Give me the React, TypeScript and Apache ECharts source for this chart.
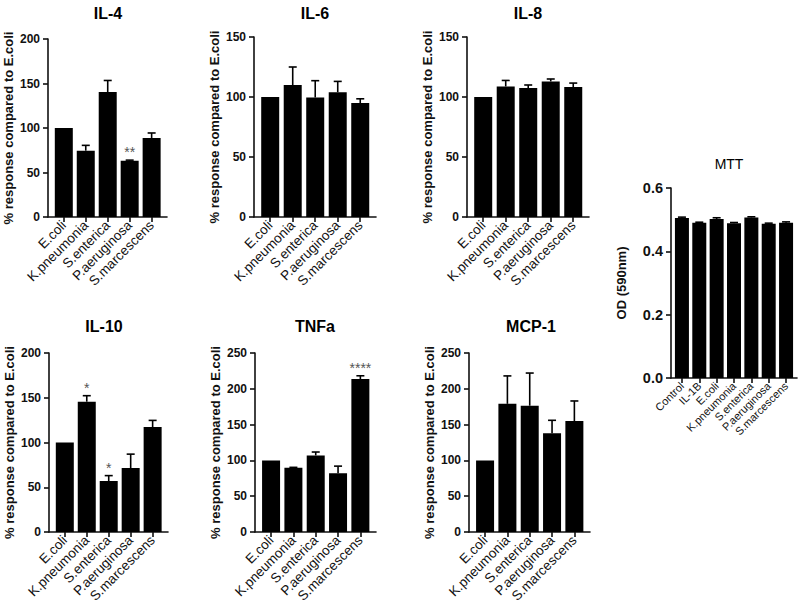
import React, { useEffect, useRef } from 'react';
import * as echarts from 'echarts';

// ---------------- data ----------------
const bacteria = ['E.coli', 'K.pneumonia', 'S.enterica', 'P.aeruginosa', 'S.marcescens'];
const mttCategories = ['Control', 'IL-1B', 'E.coli', 'K.pneumonia', 'S.enterica', 'P.aeruginosa', 'S.marcescens'];

const il4Means = [100, 74.5, 140.4, 63.3, 88.8];
const il4Errors = [0, 6, 13, 0.6, 5.6];
const il4Stars = ['', '', '', '**', ''];

const il6Means = [100, 110, 99.6, 104, 95];
const il6Errors = [0, 15, 14, 9, 3.5];
const il6Stars = ['', '', '', '', ''];

const il8Means = [100, 108.8, 107.5, 113, 108.3];
const il8Errors = [0, 5, 2.5, 2, 3.3];
const il8Stars = ['', '', '', '', ''];

const il10Means = [100, 145.6, 57, 71.5, 117.3];
const il10Errors = [0, 6.7, 6, 15.5, 7.4];
const il10Stars = ['', '*', '*', '', ''];

const tnfMeans = [100, 89.8, 107, 82, 213.7];
const tnfErrors = [0, 0.5, 4.7, 10, 4.5];
const tnfStars = ['', '', '', '', '****'];

const mcpMeans = [100, 179, 176.4, 138, 155];
const mcpErrors = [0, 39, 45.6, 18, 28];
const mcpStars = ['', '', '', '', ''];

const mttMeans = [0.505, 0.49, 0.502, 0.489, 0.507, 0.487, 0.49];
const mttErrors = [0.003, 0.002, 0.004, 0.002, 0.002, 0.002, 0.003];
const mttStars = ['', '', '', '', '', '', ''];

const yTicksPct200 = { max: 200, interval: 50 };
const yTicksPct150 = { max: 150, interval: 50 };
const yTicksPct250 = { max: 250, interval: 50 };
const yTicksOD = { max: 0.6, interval: 0.2 };

const yNamePct = '% response compared to E.coli';
const yNameOD = 'OD (590nm)';

// ---------------- layout ----------------
const FONT = '"Liberation Sans", Arial, Helvetica, sans-serif';

type Panel = {
  title: string;
  titleX: number;
  titleY: number;
  titleBold: boolean;
  titleSize: number;
  cats: string[];
  means: number[];
  errors: number[];
  stars: string[];
  ticks: { max: number; interval: number };
  yName: string;
  left: number;
  top: number;
  width: number;
  height: number;
  xMin: number;
  xMax: number;
  barWidth: number;
  tickFont: number;
  catFont: number;
  nameGap: number;
  decimals: number;
};

const common = {
  titleBold: true,
  titleSize: 16,
  xMin: -0.72,
  xMax: 4.7,
  barWidth: 18,
  tickFont: 12,
  catFont: 13.5,
  nameGap: 33,
  decimals: 0,
  yName: yNamePct,
};

const panels: Panel[] = [
  { ...common, title: 'IL-4', titleX: 108, titleY: 13, cats: bacteria, means: il4Means, errors: il4Errors, stars: il4Stars, ticks: yTicksPct200, left: 48, top: 39, width: 119, height: 178 },
  { ...common, title: 'IL-6', titleX: 315, titleY: 13, cats: bacteria, means: il6Means, errors: il6Errors, stars: il6Stars, ticks: yTicksPct150, left: 254, top: 37, width: 122, height: 180 },
  { ...common, title: 'IL-8', titleX: 528, titleY: 13, cats: bacteria, means: il8Means, errors: il8Errors, stars: il8Stars, ticks: yTicksPct150, left: 467, top: 37, width: 122, height: 180 },
  { ...common, title: 'IL-10', titleX: 104, titleY: 326, cats: bacteria, means: il10Means, errors: il10Errors, stars: il10Stars, ticks: yTicksPct200, left: 49, top: 353, width: 119, height: 179 },
  { ...common, title: 'TNFa', titleX: 315, titleY: 326, cats: bacteria, means: tnfMeans, errors: tnfErrors, stars: tnfStars, ticks: yTicksPct250, left: 255, top: 353, width: 121, height: 179 },
  { ...common, title: 'MCP-1', titleX: 531, titleY: 326, cats: bacteria, means: mcpMeans, errors: mcpErrors, stars: mcpStars, ticks: yTicksPct250, left: 469, top: 353, width: 121, height: 179 },
  {
    ...common,
    title: 'MTT', titleX: 729, titleY: 164, titleBold: false, titleSize: 14,
    cats: mttCategories, means: mttMeans, errors: mttErrors, stars: mttStars, ticks: yTicksOD,
    yName: yNameOD, left: 671, top: 188, width: 126, height: 190,
    xMin: -0.63, xMax: 6.63, barWidth: 14, tickFont: 14.5, catFont: 11, nameGap: 43, decimals: 1,
  },
];

function buildOption() {
  const grid: any[] = [];
  const xAxis: any[] = [];
  const yAxis: any[] = [];
  const series: any[] = [];
  const graphic: any[] = [];
  const axisLineStyle = { color: '#111', width: 1.6 };

  panels.forEach((p, i) => {
    const idx = p.cats.map((_, j) => j);
    grid.push({ left: p.left, top: p.top, width: p.width, height: p.height, containLabel: false });
    xAxis.push({
      type: 'value',
      gridIndex: i,
      min: p.xMin,
      max: p.xMax,
      splitLine: { show: false },
      axisLine: { show: true, onZero: false, lineStyle: axisLineStyle },
      axisTick: { show: true, customValues: idx, length: 5, lineStyle: axisLineStyle },
      axisLabel: {
        customValues: idx,
        rotate: 45,
        margin: 6,
        fontFamily: FONT,
        fontSize: p.catFont,
        color: '#111',
        formatter: (v: number) => p.cats[Math.round(v)] ?? '',
      },
    });
    yAxis.push({
      type: 'value',
      gridIndex: i,
      min: 0,
      max: p.ticks.max,
      interval: p.ticks.interval,
      splitLine: { show: false },
      axisLine: { show: true, onZero: false, lineStyle: axisLineStyle },
      axisTick: { show: true, length: 5, lineStyle: axisLineStyle },
      axisLabel: {
        margin: 8,
        fontFamily: FONT,
        fontWeight: 'bold',
        fontSize: p.tickFont,
        color: '#111',
        formatter: (v: number) => v.toFixed(p.decimals),
      },
      name: p.yName,
      nameLocation: 'middle',
      nameGap: p.nameGap,
      nameTextStyle: { fontFamily: FONT, fontWeight: 'bold', fontSize: 13, color: '#111' },
    });
    series.push({
      type: 'bar',
      xAxisIndex: i,
      yAxisIndex: i,
      barWidth: p.barWidth,
      data: p.means.map((m, j) => [j, m]),
      itemStyle: { color: '#000' },
      z: 2,
    });
    series.push({
      type: 'custom',
      xAxisIndex: i,
      yAxisIndex: i,
      coordinateSystem: 'cartesian2d',
      clip: false,
      z: 3,
      encode: { x: 0, y: 1 },
      data: p.means.map((m, j) => [j, m, p.errors[j]]),
      renderItem: (params: any, api: any) => {
        const x = api.value(0);
        const m = api.value(1);
        const e = api.value(2);
        const base = api.coord([x, m]);
        const top = api.coord([x, m + e]);
        const children: any[] = [];
        if (e > 0) {
          children.push({ type: 'line', shape: { x1: base[0], y1: base[1], x2: top[0], y2: top[1] }, style: { stroke: '#000', lineWidth: 1.6 } });
          children.push({ type: 'line', shape: { x1: top[0] - 4, y1: top[1], x2: top[0] + 4, y2: top[1] }, style: { stroke: '#000', lineWidth: 1.6 } });
        }
        const star = p.stars[params.dataIndex];
        if (star) {
          children.push({
            type: 'text',
            x: top[0],
            y: top[1] - 1,
            style: { text: star, fill: '#555', font: `14px ${FONT}`, align: 'center', verticalAlign: 'bottom' },
          });
        }
        return { type: 'group', children };
      },
    });
    graphic.push({
      type: 'text',
      x: p.titleX,
      y: p.titleY,
      style: {
        text: p.title,
        fill: '#000',
        font: `${p.titleBold ? 'bold ' : ''}${p.titleSize}px ${FONT}`,
        align: 'center',
        verticalAlign: 'middle',
      },
    });
  });

  return { animation: false, backgroundColor: '#fff', grid, xAxis, yAxis, series, graphic };
}

export default function App() {
  const ref = useRef<HTMLDivElement>(null);
  useEffect(() => {
    document.body.style.margin = '0';
    if (!ref.current) return;
    const chart = echarts.init(ref.current, undefined, { renderer: 'svg' });
    chart.setOption(buildOption() as any);
    return () => chart.dispose();
  }, []);
  return <div ref={ref} style={{ width: 800, height: 610 }} />;
}
